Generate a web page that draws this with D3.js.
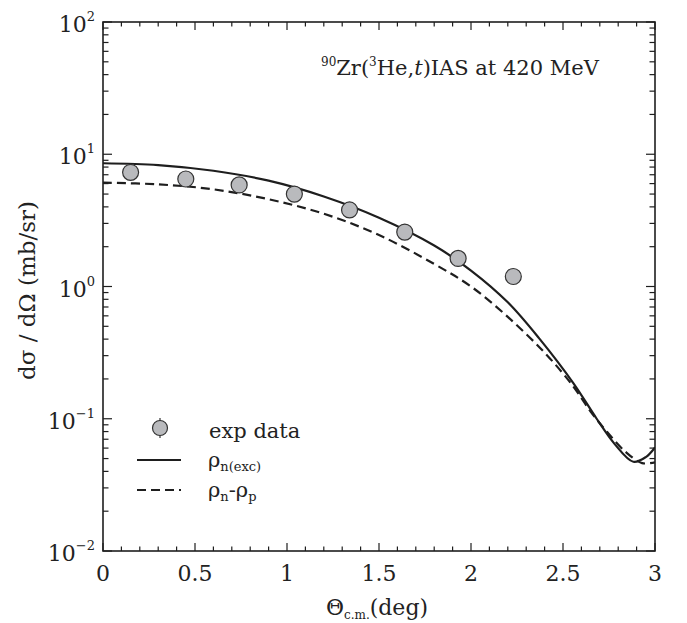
<!DOCTYPE html>
<html>
<head>
<meta charset="utf-8">
<script src="https://cdn.jsdelivr.net/npm/d3@7/dist/d3.min.js"></script>
<style>
  html, body { margin: 0; padding: 0; background: #fff; }
  svg { display: block; }
  text { font-family: "DejaVu Serif", serif; fill: #222; }
</style>
</head>
<body>
<svg id="chart" width="687" height="623"></svg>
<script>
// Measured cross sections, 90Zr(3He,t) IAS
const expAngle = [0.15, 0.45, 0.74, 1.04, 1.34, 1.64, 1.93, 2.23];
const expXsec  = [7.3, 6.5, 5.86, 5.0, 3.79, 2.58, 1.63, 1.19];

// Calculation with rho_n(exc)
const excAngle = [0, 0.3, 0.6, 0.9, 1.2, 1.5, 1.8, 2.0, 2.2, 2.375, 2.556, 2.683, 2.78, 2.882, 2.95, 3.0];
const excXsec  = [8.55, 8.28, 7.50, 6.31, 4.79, 3.31, 2.04, 1.32, 0.759, 0.398, 0.186, 0.100, 0.0646, 0.0473, 0.0513, 0.0608];

// Calculation with rho_n - rho_p
const diffAngle = [0, 0.3, 0.6, 0.9, 1.2, 1.5, 1.8, 2.0, 2.2, 2.4, 2.55, 2.65, 2.74, 2.84, 2.93, 3.0];
const diffXsec  = [6.10, 5.92, 5.43, 4.57, 3.55, 2.45, 1.48, 1.0, 0.589, 0.316, 0.180, 0.1135, 0.0794, 0.0562, 0.0462, 0.0468];

// Axis ticks
const xTickValues = [0, 0.5, 1, 1.5, 2, 2.5, 3];
const xTickLabels = ["0", "0.5", "1", "1.5", "2", "2.5", "3"];
const yDecades = [1e-2, 1e-1, 1e0, 1e1, 1e2];
const yExponents = ["\u22122", "\u22121", "0", "1", "2"];

const svg = d3.select("#chart");
const m = { left: 103, right: 655, top: 22, bottom: 551 };

const x = d3.scaleLinear().domain([0, 3]).range([m.left, m.right]);
const y = d3.scaleLog().domain([1e-2, 1e2]).range([m.bottom, m.top]);

const ink = "#1e1e1e";

// Minor / major tick positions
const xMinor = d3.range(0, 3.0001, 0.1).filter(v => Math.abs(v * 2 - Math.round(v * 2)) > 1e-6);
const yMinor = [];
[1e-2, 1e-1, 1e0, 1e1].forEach(d => { for (let k = 2; k <= 9; k++) yMinor.push(d * k); });

const g = svg.append("g");

function tickLines(sel, vals, len, orient) {
  vals.forEach(v => {
    if (orient === "bottom") sel.append("line").attr("x1", x(v)).attr("x2", x(v)).attr("y1", m.bottom).attr("y2", m.bottom - len);
    if (orient === "top") sel.append("line").attr("x1", x(v)).attr("x2", x(v)).attr("y1", m.top).attr("y2", m.top + len);
    if (orient === "left") sel.append("line").attr("y1", y(v)).attr("y2", y(v)).attr("x1", m.left).attr("x2", m.left + len);
    if (orient === "right") sel.append("line").attr("y1", y(v)).attr("y2", y(v)).attr("x1", m.right).attr("x2", m.right - len);
  });
}

const ticks = g.append("g").attr("stroke", ink).attr("stroke-width", 1.2);
tickLines(ticks, xTickValues, 8, "bottom");
tickLines(ticks, xTickValues, 8, "top");
tickLines(ticks, xMinor, 4.5, "bottom");
tickLines(ticks, xMinor, 4.5, "top");
tickLines(ticks, yDecades, 9, "left");
tickLines(ticks, yDecades, 9, "right");
tickLines(ticks, yMinor, 5.5, "left");
tickLines(ticks, yMinor, 5.5, "right");

// Curves, drawn through the log scale
const line = d3.line()
  .x(d => x(d[0]))
  .y(d => y(d[1]))
  .curve(d3.curveCatmullRom.alpha(0.5));

const plot = g.append("g");
plot.append("clipPath").attr("id", "clip").append("rect")
  .attr("x", m.left).attr("y", m.top).attr("width", m.right - m.left).attr("height", m.bottom - m.top);

plot.append("path")
  .datum(d3.zip(diffAngle, diffXsec))
  .attr("clip-path", "url(#clip)")
  .attr("fill", "none").attr("stroke", ink).attr("stroke-width", 2.2)
  .attr("stroke-dasharray", "9,5")
  .attr("d", line);

plot.append("path")
  .datum(d3.zip(excAngle, excXsec))
  .attr("clip-path", "url(#clip)")
  .attr("fill", "none").attr("stroke", ink).attr("stroke-width", 2.2)
  .attr("d", line);

// Data points
plot.selectAll("circle.exp")
  .data(d3.zip(expAngle, expXsec))
  .join("circle")
  .attr("class", "exp")
  .attr("cx", d => x(d[0])).attr("cy", d => y(d[1]))
  .attr("r", 8)
  .attr("fill", "#b9babd").attr("stroke", "#333").attr("stroke-width", 1.2);

// Frame
g.append("rect")
  .attr("x", m.left).attr("y", m.top)
  .attr("width", m.right - m.left).attr("height", m.bottom - m.top)
  .attr("fill", "none").attr("stroke", ink).attr("stroke-width", 1.6);

// X tick labels
g.append("g").selectAll("text")
  .data(xTickValues)
  .join("text")
  .attr("x", d => x(d)).attr("y", 581)
  .attr("text-anchor", "middle")
  .attr("font-size", 22)
  .text((d, i) => xTickLabels[i]);

// Y tick labels: 10^n
const yl = g.append("g").selectAll("text")
  .data(yDecades)
  .join("text")
  .attr("x", 95).attr("y", d => y(d) + 10)
  .attr("text-anchor", "end")
  .attr("font-size", 22);
yl.append("tspan").text("10");
yl.append("tspan").attr("font-size", 13).attr("dy", -11).text((d, i) => yExponents[i]);

// Axis titles
const xt = g.append("text")
  .attr("x", (m.left + m.right) / 2 - 2).attr("y", 615)
  .attr("text-anchor", "middle").attr("font-size", 22);
xt.append("tspan").text("\u0398");
xt.append("tspan").attr("font-size", 12).attr("dy", 4).text("c.m.");
xt.append("tspan").attr("dy", -4).text("(deg)");

g.append("text")
  .attr("transform", "translate(35," + ((m.top + m.bottom) / 2 + 4) + ") rotate(-90)")
  .attr("text-anchor", "middle").attr("font-size", 23)
  .text("d\u03c3 / d\u03a9 (mb/sr)");

// Reaction label
const title = g.append("text")
  .attr("x", 321).attr("y", 75)
  .attr("font-size", 21);
title.append("tspan").attr("font-size", 12).attr("dy", -9).text("90");
title.append("tspan").attr("dy", 9).text("Zr(");
title.append("tspan").attr("font-size", 12).attr("dy", -9).text("3");
title.append("tspan").attr("dy", 9).text("He,");
title.append("tspan").attr("font-style", "italic").text("t");
title.append("tspan").text(")IAS at 420 MeV");

// Legend
const lg = g.append("g");
lg.append("line").attr("x1", 160).attr("x2", 160).attr("y1", 418).attr("y2", 438)
  .attr("stroke", "#333").attr("stroke-width", 1.2);
lg.append("circle").attr("cx", 160).attr("cy", 428).attr("r", 7.5)
  .attr("fill", "#b9babd").attr("stroke", "#333").attr("stroke-width", 1.2);
lg.append("text").attr("x", 209).attr("y", 438).attr("font-size", 21).text("exp data");

lg.append("line").attr("x1", 137).attr("x2", 181).attr("y1", 460).attr("y2", 460)
  .attr("stroke", ink).attr("stroke-width", 2.2);
const l2 = lg.append("text").attr("x", 208).attr("y", 467).attr("font-size", 21);
l2.append("tspan").text("\u03c1");
l2.append("tspan").attr("font-size", 13).attr("dy", 4).text("n(exc)");

lg.append("line").attr("x1", 137).attr("x2", 181).attr("y1", 490).attr("y2", 490)
  .attr("stroke", ink).attr("stroke-width", 2.2).attr("stroke-dasharray", "9,5");
const l3 = lg.append("text").attr("x", 208).attr("y", 497).attr("font-size", 21);
l3.append("tspan").text("\u03c1");
l3.append("tspan").attr("font-size", 13).attr("dy", 4).text("n");
l3.append("tspan").attr("dy", -4).text("-\u03c1");
l3.append("tspan").attr("font-size", 13).attr("dy", 4).text("p");
</script>
</body>
</html>
